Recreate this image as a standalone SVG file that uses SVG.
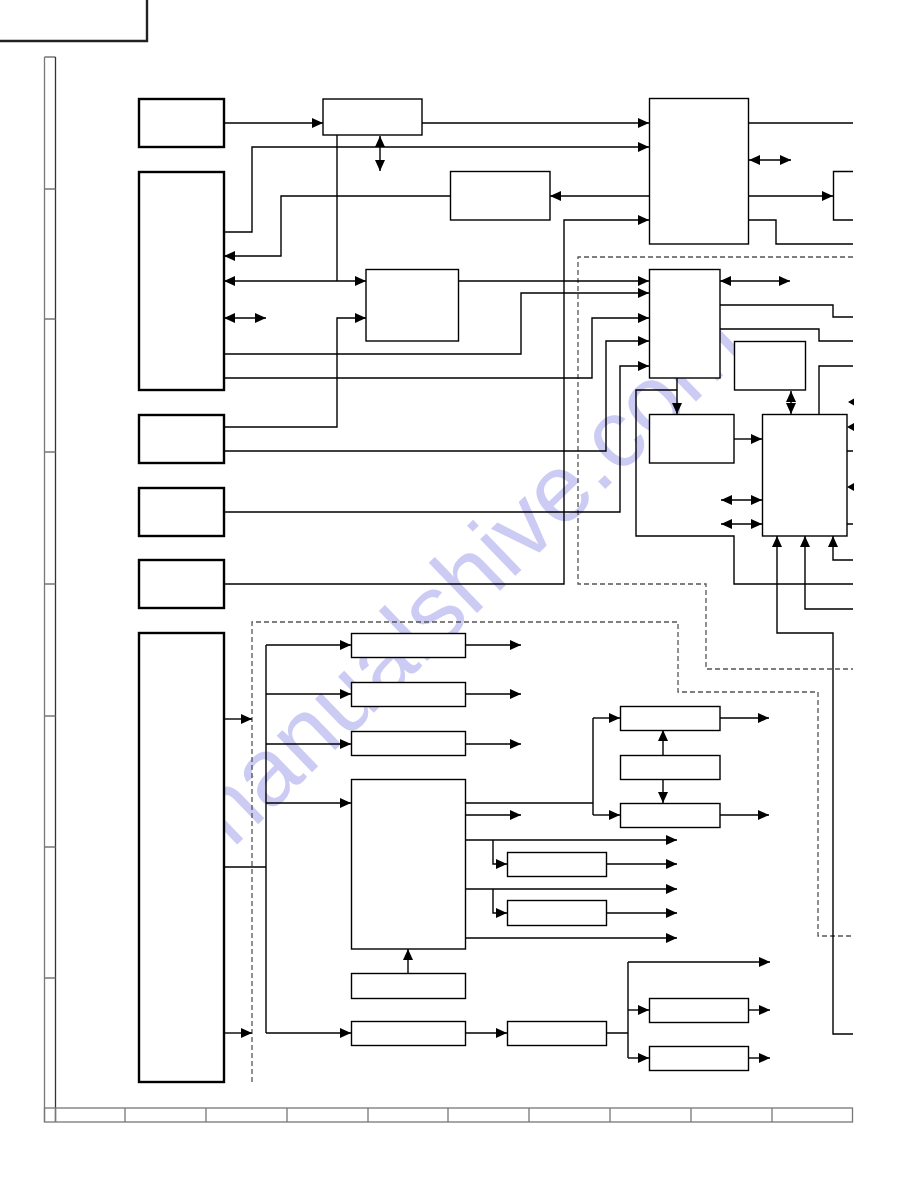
<svg xmlns="http://www.w3.org/2000/svg" width="918" height="1188" viewBox="0 0 918 1188">
<style>
.bx{fill:#fff;stroke:#000;stroke-width:1.4}
.bk{fill:#fff;stroke:#000;stroke-width:2.4}
.ln{fill:none;stroke:#000;stroke-width:1.4}
.ar{fill:none;stroke:#000;stroke-width:1.4;marker-end:url(#ah)}
.ar2{fill:none;stroke:#000;stroke-width:1.4;marker-start:url(#ahs);marker-end:url(#ah)}
.ds{fill:none;stroke:#555;stroke-width:1.3;stroke-dasharray:5 3}
.fr{fill:none;stroke:#777;stroke-width:1.3}
.wm{font-family:"Liberation Sans",Arial,sans-serif;font-size:96px;fill:#c3c3f3;opacity:0.85}
</style>
<defs>
<marker id="ah" markerUnits="userSpaceOnUse" markerWidth="12" markerHeight="11" refX="11" refY="5" orient="auto"><path d="M0,0 L11,5 L0,10 z" fill="#000"/></marker>
<marker id="ahs" markerUnits="userSpaceOnUse" markerWidth="12" markerHeight="11" refX="11" refY="5" orient="auto-start-reverse"><path d="M0,0 L11,5 L0,10 z" fill="#000"/></marker>
</defs>
<rect width="918" height="1188" fill="#fff"/>
<text class="wm" x="480" y="610" text-anchor="middle" transform="rotate(-44 480 610)">manualshive.com</text>
<g id="frame">
<path d="M0,41 H147 V0" fill="none" stroke="#222" stroke-width="2.4"/>
<path class="fr" d="M44.5,57 V1122 M44.5,57 H55.5"/>
<path d="M55.5,57 V1122" fill="none" stroke="#333" stroke-width="1.3"/>
<path class="fr" d="M44.5,189 H55.5 M44.5,319 H55.5 M44.5,452 H55.5 M44.5,584 H55.5 M44.5,716 H55.5 M44.5,847 H55.5 M44.5,978 H55.5"/>
<rect class="fr" x="44.5" y="1108" width="808" height="14"/>
<path class="fr" d="M55.5,1108 V1122 M125,1108 V1122 M206,1108 V1122 M287,1108 V1122 M368,1108 V1122 M448,1108 V1122 M529,1108 V1122 M610,1108 V1122 M691,1108 V1122 M772,1108 V1122"/>
</g>
<g id="regions">
<path class="ds" d="M853,257 H578 V584 H706 V669 H853"/>
<path class="ds" d="M252,1082 V622 H678 V692 H818 V936 H853"/>
</g>
<g id="connectors">
<path class="ar" d="M224,123 H323"/>
<path class="ar" d="M422,123 H649"/>
<path class="ar" d="M224,232 H252 V147 H649"/>
<path class="ar" d="M649,196 H550"/>
<path class="ar" d="M450,196 H281 V256 H224"/>
<path class="ln" d="M337,135 V281"/>
<path class="ar2" d="M224,281 H366"/>
<path class="ar" d="M224,427 H337 V318 H366"/>
<path class="ar2" d="M224,318 H266"/>
<path class="ar2" d="M380,136 V171"/>
<path class="ar" d="M224,354 H521 V293 H649"/>
<path class="ar" d="M224,378 H592 V318 H649"/>
<path class="ar" d="M224,451 H606 V341 H649"/>
<path class="ar" d="M224,512 H620 V366 H649"/>
<path class="ar" d="M224,584 H564 V220 H649"/>
<path class="ar" d="M458,281 H649"/>
<path class="ln" d="M748,123 H853"/>
<path class="ar2" d="M749,160 H791"/>
<path class="ar" d="M748,196 H833"/>
<path class="ln" d="M748,220 H776 V244 H853"/>
<path class="ar2" d="M720,281 H790"/>
<path class="ln" d="M720,305 H833 V317 H853"/>
<path class="ln" d="M720,329 H819 V341 H853"/>
<path class="ar" d="M677,378 V414"/>
<path class="ln" d="M677,390 H636 V536 H734 V584 H853"/>
<path class="ar2" d="M791,391 V414"/>
<path class="ar" d="M734,439 H762"/>
<path class="ar2" d="M721,500 H762"/>
<path class="ar2" d="M721,524 H762"/>
<path class="ln" d="M819,414 V366 H853"/>
<polygon points="848,402 854,398.5 854,405.5"/>
<polygon points="847,427 854,423 854,431"/>
<polygon points="847,487 854,483 854,491"/>
<path class="ln" d="M847,451 H853 M847,524 H853"/>
<path class="ar" d="M853,560 H833 V536"/>
<path class="ar" d="M853,609 H805 V536"/>
<path class="ar" d="M853,1034 H833 V633 H777 V536"/>
<path class="ar" d="M224,719 H252"/>
<path class="ar" d="M224,1033 H252"/>
<path class="ln" d="M224,867 H266 M266,645 V1033"/>
<path class="ar" d="M266,645 H351"/>
<path class="ar" d="M266,694 H351"/>
<path class="ar" d="M266,744 H351"/>
<path class="ar" d="M266,803 H351"/>
<path class="ar" d="M266,1033 H351"/>
<path class="ar" d="M466,645 H521"/>
<path class="ar" d="M466,694 H521"/>
<path class="ar" d="M466,744 H521"/>
<path class="ln" d="M466,803 H593 M593,718 V815"/>
<path class="ar" d="M593,718 H620"/>
<path class="ar" d="M593,815 H620"/>
<path class="ar" d="M663,755 V730"/>
<path class="ar" d="M663,779 V803"/>
<path class="ar" d="M720,718 H769"/>
<path class="ar" d="M720,815 H769"/>
<path class="ar" d="M466,815 H521"/>
<path class="ar" d="M466,840 H677"/>
<path class="ar" d="M493,840 V864 H507"/>
<path class="ar" d="M607,864 H677"/>
<path class="ar" d="M466,889 H677"/>
<path class="ar" d="M493,889 V913 H507"/>
<path class="ar" d="M607,913 H677"/>
<path class="ar" d="M466,938 H677"/>
<path class="ar" d="M408,973 V949"/>
<path class="ar" d="M466,1033 H507"/>
<path class="ln" d="M607,1033 H628 M628,962 V1058"/>
<path class="ar" d="M628,962 H770"/>
<path class="ar" d="M628,1010 H649"/>
<path class="ar" d="M628,1058 H649"/>
<path class="ar" d="M749,1010 H770"/>
<path class="ar" d="M749,1058 H770"/>
</g>
<g id="nodeA"><rect class="bk" x="139" y="99" width="85" height="48"/></g>
<g id="nodeB"><rect class="bk" x="139" y="172" width="85" height="218"/></g>
<g id="nodeC"><rect class="bk" x="139" y="415" width="85" height="48"/></g>
<g id="nodeD"><rect class="bk" x="139" y="488" width="85" height="48"/></g>
<g id="nodeE"><rect class="bk" x="139" y="560" width="85" height="48"/></g>
<g id="nodeF"><rect class="bk" x="139" y="633" width="85" height="449"/></g>
<g id="nodeG"><rect class="bx" x="323" y="99" width="99" height="36"/></g>
<g id="nodeH"><rect class="bx" x="649.5" y="98.5" width="99" height="145.5"/></g>
<g id="nodeI"><rect class="bx" x="450.5" y="171.5" width="99.5" height="48.5"/></g>
<g id="nodeJ"><rect class="bx" x="366" y="269.5" width="92.5" height="71.5"/></g>
<g id="nodeL"><path class="ln" d="M853,171.5 H833.5 V220 H853"/></g>
<g id="nodeK"><rect class="bx" x="649.5" y="269.5" width="70.5" height="108.5"/></g>
<g id="nodeN"><rect class="bx" x="734.5" y="341.5" width="71" height="48.5"/></g>
<g id="nodeO"><rect class="bx" x="649.5" y="414.5" width="84.5" height="48.5"/></g>
<g id="nodeM"><rect class="bx" x="762.5" y="414.5" width="84.5" height="121.5"/></g>
<g id="nodeP1"><rect class="bx" x="351.5" y="633.5" width="114" height="24"/></g>
<g id="nodeP2"><rect class="bx" x="351.5" y="682.5" width="114" height="24"/></g>
<g id="nodeP3"><rect class="bx" x="351.5" y="731.5" width="114" height="24"/></g>
<g id="nodeQ"><rect class="bx" x="351.5" y="779.5" width="114" height="169.5"/></g>
<g id="nodeS"><rect class="bx" x="351.5" y="973.5" width="114" height="25"/></g>
<g id="nodeR"><rect class="bx" x="351.5" y="1021.5" width="114" height="24"/></g>
<g id="nodeT1"><rect class="bx" x="620.5" y="706.5" width="99.5" height="24"/></g>
<g id="nodeT2"><rect class="bx" x="620.5" y="755.5" width="99.5" height="24"/></g>
<g id="nodeT3"><rect class="bx" x="620.5" y="803.5" width="99.5" height="24"/></g>
<g id="nodeU1"><rect class="bx" x="507.5" y="852.5" width="99" height="24"/></g>
<g id="nodeU2"><rect class="bx" x="507.5" y="900.5" width="99" height="25"/></g>
<g id="nodeV"><rect class="bx" x="507.5" y="1021.5" width="99" height="24"/></g>
<g id="nodeW1"><rect class="bx" x="649.5" y="998.5" width="99" height="24"/></g>
<g id="nodeW2"><rect class="bx" x="649.5" y="1046.5" width="99" height="24"/></g>
</svg>
